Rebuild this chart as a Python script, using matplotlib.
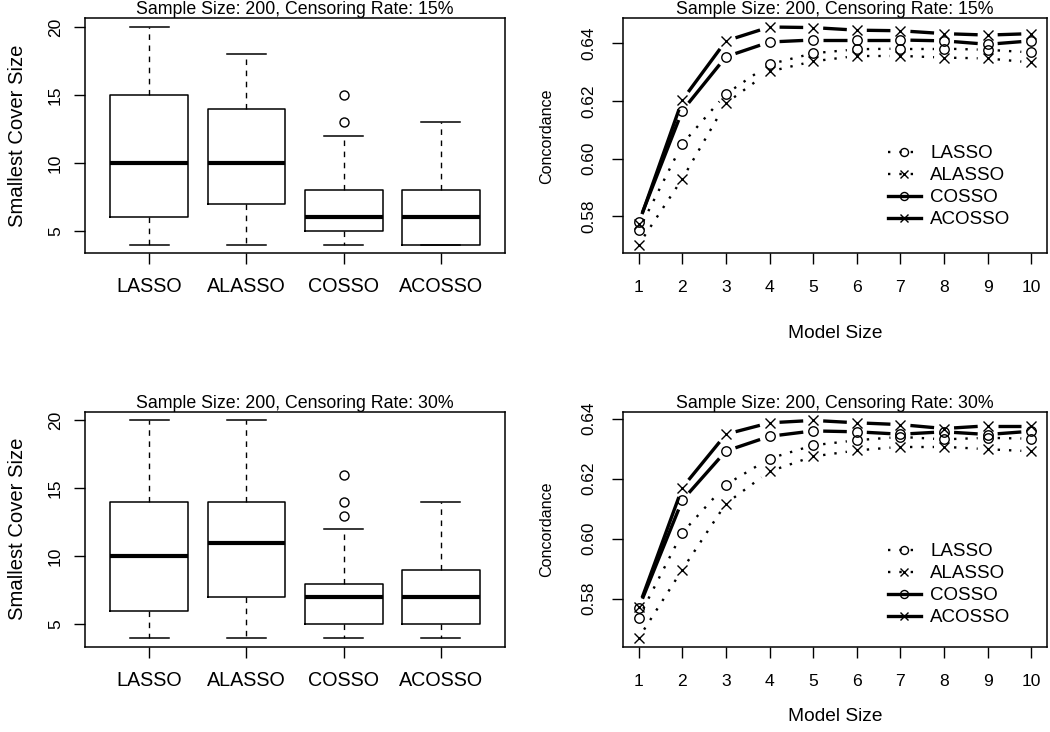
import numpy as np
import matplotlib
matplotlib.use("Agg")
import matplotlib.pyplot as plt
from matplotlib.lines import Line2D

plt.rcParams['font.family'] = ['Liberation Sans', 'DejaVu Sans']

# ---------------- data ----------------
methods = ["LASSO", "ALASSO", "COSSO", "ACOSSO"]

# boxplot stats, censoring 15%
b15_whislo = [4, 4, 4, 4]
b15_q1 = [6, 7, 5, 4]
b15_med = [10, 10, 6, 6]
b15_q3 = [15, 14, 8, 8]
b15_whishi = [20, 18, 12, 13]
b15_fliers = [[], [], [13, 15], []]

# boxplot stats, censoring 30%
b30_whislo = [4, 4, 4, 4]
b30_q1 = [6, 7, 5, 5]
b30_med = [10, 11, 7, 7]
b30_q3 = [14, 14, 8, 9]
b30_whishi = [20, 20, 12, 14]
b30_fliers = [[], [], [13, 14, 16], []]

model_size = [1, 2, 3, 4, 5, 6, 7, 8, 9, 10]

c15_lasso = [0.5752, 0.6051, 0.6224, 0.6327, 0.6365, 0.6379, 0.6381, 0.6381, 0.6377, 0.6368]
c15_alasso = [0.5702, 0.5930, 0.6192, 0.6302, 0.6337, 0.6356, 0.6356, 0.6350, 0.6347, 0.6333]
c15_cosso = [0.5780, 0.6166, 0.6353, 0.6404, 0.6411, 0.6411, 0.6411, 0.6408, 0.6396, 0.6408]
c15_acosso = [0.5775, 0.6203, 0.6408, 0.6456, 0.6454, 0.6445, 0.6443, 0.6433, 0.6428, 0.6433]

c30_lasso = [0.5737, 0.6020, 0.6180, 0.6267, 0.6311, 0.6328, 0.6339, 0.6331, 0.6336, 0.6333]
c30_alasso = [0.5669, 0.5897, 0.6117, 0.6224, 0.6274, 0.6294, 0.6306, 0.6306, 0.6298, 0.6291]
c30_cosso = [0.5769, 0.6128, 0.6292, 0.6341, 0.6359, 0.6356, 0.6348, 0.6356, 0.6347, 0.6358]
c30_acosso = [0.5772, 0.6170, 0.6348, 0.6386, 0.6394, 0.6386, 0.6380, 0.6367, 0.6376, 0.6376]

box_yticks = [5, 10, 15, 20]
conc_yticks = [0.58, 0.60, 0.62, 0.64]
title15 = "Sample Size: 200, Censoring Rate: 15%"
title30 = "Sample Size: 200, Censoring Rate: 30%"

# ---------------- figure ----------------
W, H = 1050, 732
fig = plt.figure(figsize=(W / 100, H / 100), dpi=100)

def axes_px(x0, y0, x1, y1):
    return fig.add_axes([x0 / W, 1 - y1 / H, (x1 - x0) / W, (y1 - y0) / H])

ax_b15 = axes_px(85, 18.3, 505, 253.3)
ax_c15 = axes_px(623, 18.3, 1047, 253.3)
ax_b30 = axes_px(85, 411.7, 505, 646.7)
ax_c30 = axes_px(623, 411.7, 1047, 646.7)

SPINE_LW = 1.1
TICK_LEN = 7.9

def style_axes(ax):
    for s in ax.spines.values():
        s.set_linewidth(SPINE_LW)
    ax.tick_params(direction='out', length=TICK_LEN, width=1.0, color='black')

def rotate_ylabels(ax, size, pad):
    ax.tick_params(axis='y', labelrotation=90, labelsize=size, pad=pad)
    for lab in ax.get_yticklabels():
        lab.set_va('center')

def draw_box(ax, whislo, q1, med, q3, whishi, fliers, title):
    stats = []
    for i in range(len(methods)):
        stats.append(dict(whislo=whislo[i], q1=q1[i], med=med[i], q3=q3[i],
                          whishi=whishi[i], fliers=fliers[i], label=methods[i]))
    ax.bxp(stats, positions=range(1, len(methods) + 1), widths=0.8,
           capwidths=0.4, showfliers=True, patch_artist=False,
           boxprops=dict(color='black', lw=1.1),
           medianprops=dict(color='black', lw=3.0, solid_capstyle='butt'),
           whiskerprops=dict(color='black', lw=1.0, linestyle=(0, (4, 4))),
           capprops=dict(color='black', lw=1.1),
           flierprops=dict(marker='o', markerfacecolor='none', markeredgecolor='black',
                           markersize=6.5, markeredgewidth=1.0, linestyle='none'))
    ax.set_xlim(0.34, 4.66)
    ax.set_ylim(3.36, 20.64)
    ax.set_xticks(range(1, len(methods) + 1))
    ax.set_xticklabels(methods)
    ax.set_yticks(box_yticks)
    ax.set_yticklabels([str(v) for v in box_yticks])
    style_axes(ax)
    ax.tick_params(axis='x', labelsize=14.2, pad=9.5)
    rotate_ylabels(ax, 12.5, 8)
    ax.set_title(title, fontsize=12.8, pad=1.5)
    ax.set_ylabel("Smallest Cover Size", fontsize=14.6)
    ax.yaxis.set_label_coords(-0.138, 0.5)

GAP = 10.0  # pixels left open around each point (R type="b")

def broken_line(ax, xs, ys, ls, lw, marker, ms):
    pts = ax.transData.transform(np.column_stack([xs, ys]))
    inv = ax.transData.inverted()
    for i in range(len(pts) - 1):
        p0, p1 = pts[i], pts[i + 1]
        d = p1 - p0
        L = np.hypot(*d)
        if L <= 2 * GAP:
            continue
        u = d / L
        a = inv.transform(p0 + u * GAP)
        b = inv.transform(p1 - u * GAP)
        ax.plot([a[0], b[0]], [a[1], b[1]], color='black', lw=lw, linestyle=ls,
                solid_capstyle='butt', dash_capstyle='butt')
    ax.plot(xs, ys, linestyle='none', marker=marker, markersize=ms,
            markerfacecolor='none', markeredgecolor='black', markeredgewidth=1.0)

DOT = (0, (1, 3.8))
series_styles = [
    (DOT, 1.7, 'o', 6.8),
    (DOT, 1.7, 'x', 6.5),
    ('-', 2.4, 'o', 6.8),
    ('-', 2.4, 'x', 6.5),
]

def draw_conc(ax, series, title, legend_top_px, xlabel_y):
    allv = np.concatenate([np.asarray(s) for s in series])
    lo, hi = allv.min(), allv.max()
    pad = 0.04 * (hi - lo)
    ax.set_xlim(1 - 0.36, 10 + 0.36)
    ax.set_ylim(lo - pad, hi + pad)
    for s, (ls, lw, mk, ms) in zip(series, series_styles):
        broken_line(ax, model_size, s, ls, lw, mk, ms)
    ax.set_xticks(model_size)
    ax.set_xticklabels([str(v) for v in model_size])
    ax.set_yticks(conc_yticks)
    ax.set_yticklabels(["%.2f" % v for v in conc_yticks])
    style_axes(ax)
    ax.tick_params(axis='x', labelsize=12.6, pad=11.5)
    rotate_ylabels(ax, 12.4, 11)
    ax.set_title(title, fontsize=12.8, pad=1.5)
    ax.set_ylabel("Concordance", fontsize=11.6)
    ax.yaxis.set_label_coords(-0.162, 0.5)
    ax.set_xlabel("Model Size", fontsize=13.8)
    ax.xaxis.set_label_coords(0.5, xlabel_y)
    handles = []
    for (ls, lw, mk, ms) in series_styles:
        handles.append(Line2D([], [], color='black', lw=lw, linestyle=ls, marker=mk,
                              markersize=ms * 0.85, markerfacecolor='none',
                              markeredgewidth=1.0))
    ax.legend(handles, methods, loc='upper left', frameon=False,
              bbox_to_anchor=(888 / W, 1 - legend_top_px / H),
              bbox_transform=fig.transFigure, borderpad=0, borderaxespad=0,
              fontsize=13.5, handlelength=1.75, handletextpad=0.5,
              labelspacing=0.26)

draw_box(ax_b15, b15_whislo, b15_q1, b15_med, b15_q3, b15_whishi, b15_fliers, title15)
draw_box(ax_b30, b30_whislo, b30_q1, b30_med, b30_q3, b30_whishi, b30_fliers, title30)
draw_conc(ax_c15, [c15_lasso, c15_alasso, c15_cosso, c15_acosso], title15, 145, -0.305)
draw_conc(ax_c30, [c30_lasso, c30_alasso, c30_cosso, c30_acosso], title30, 543, -0.262)

fig.savefig("out.png", dpi=100)
